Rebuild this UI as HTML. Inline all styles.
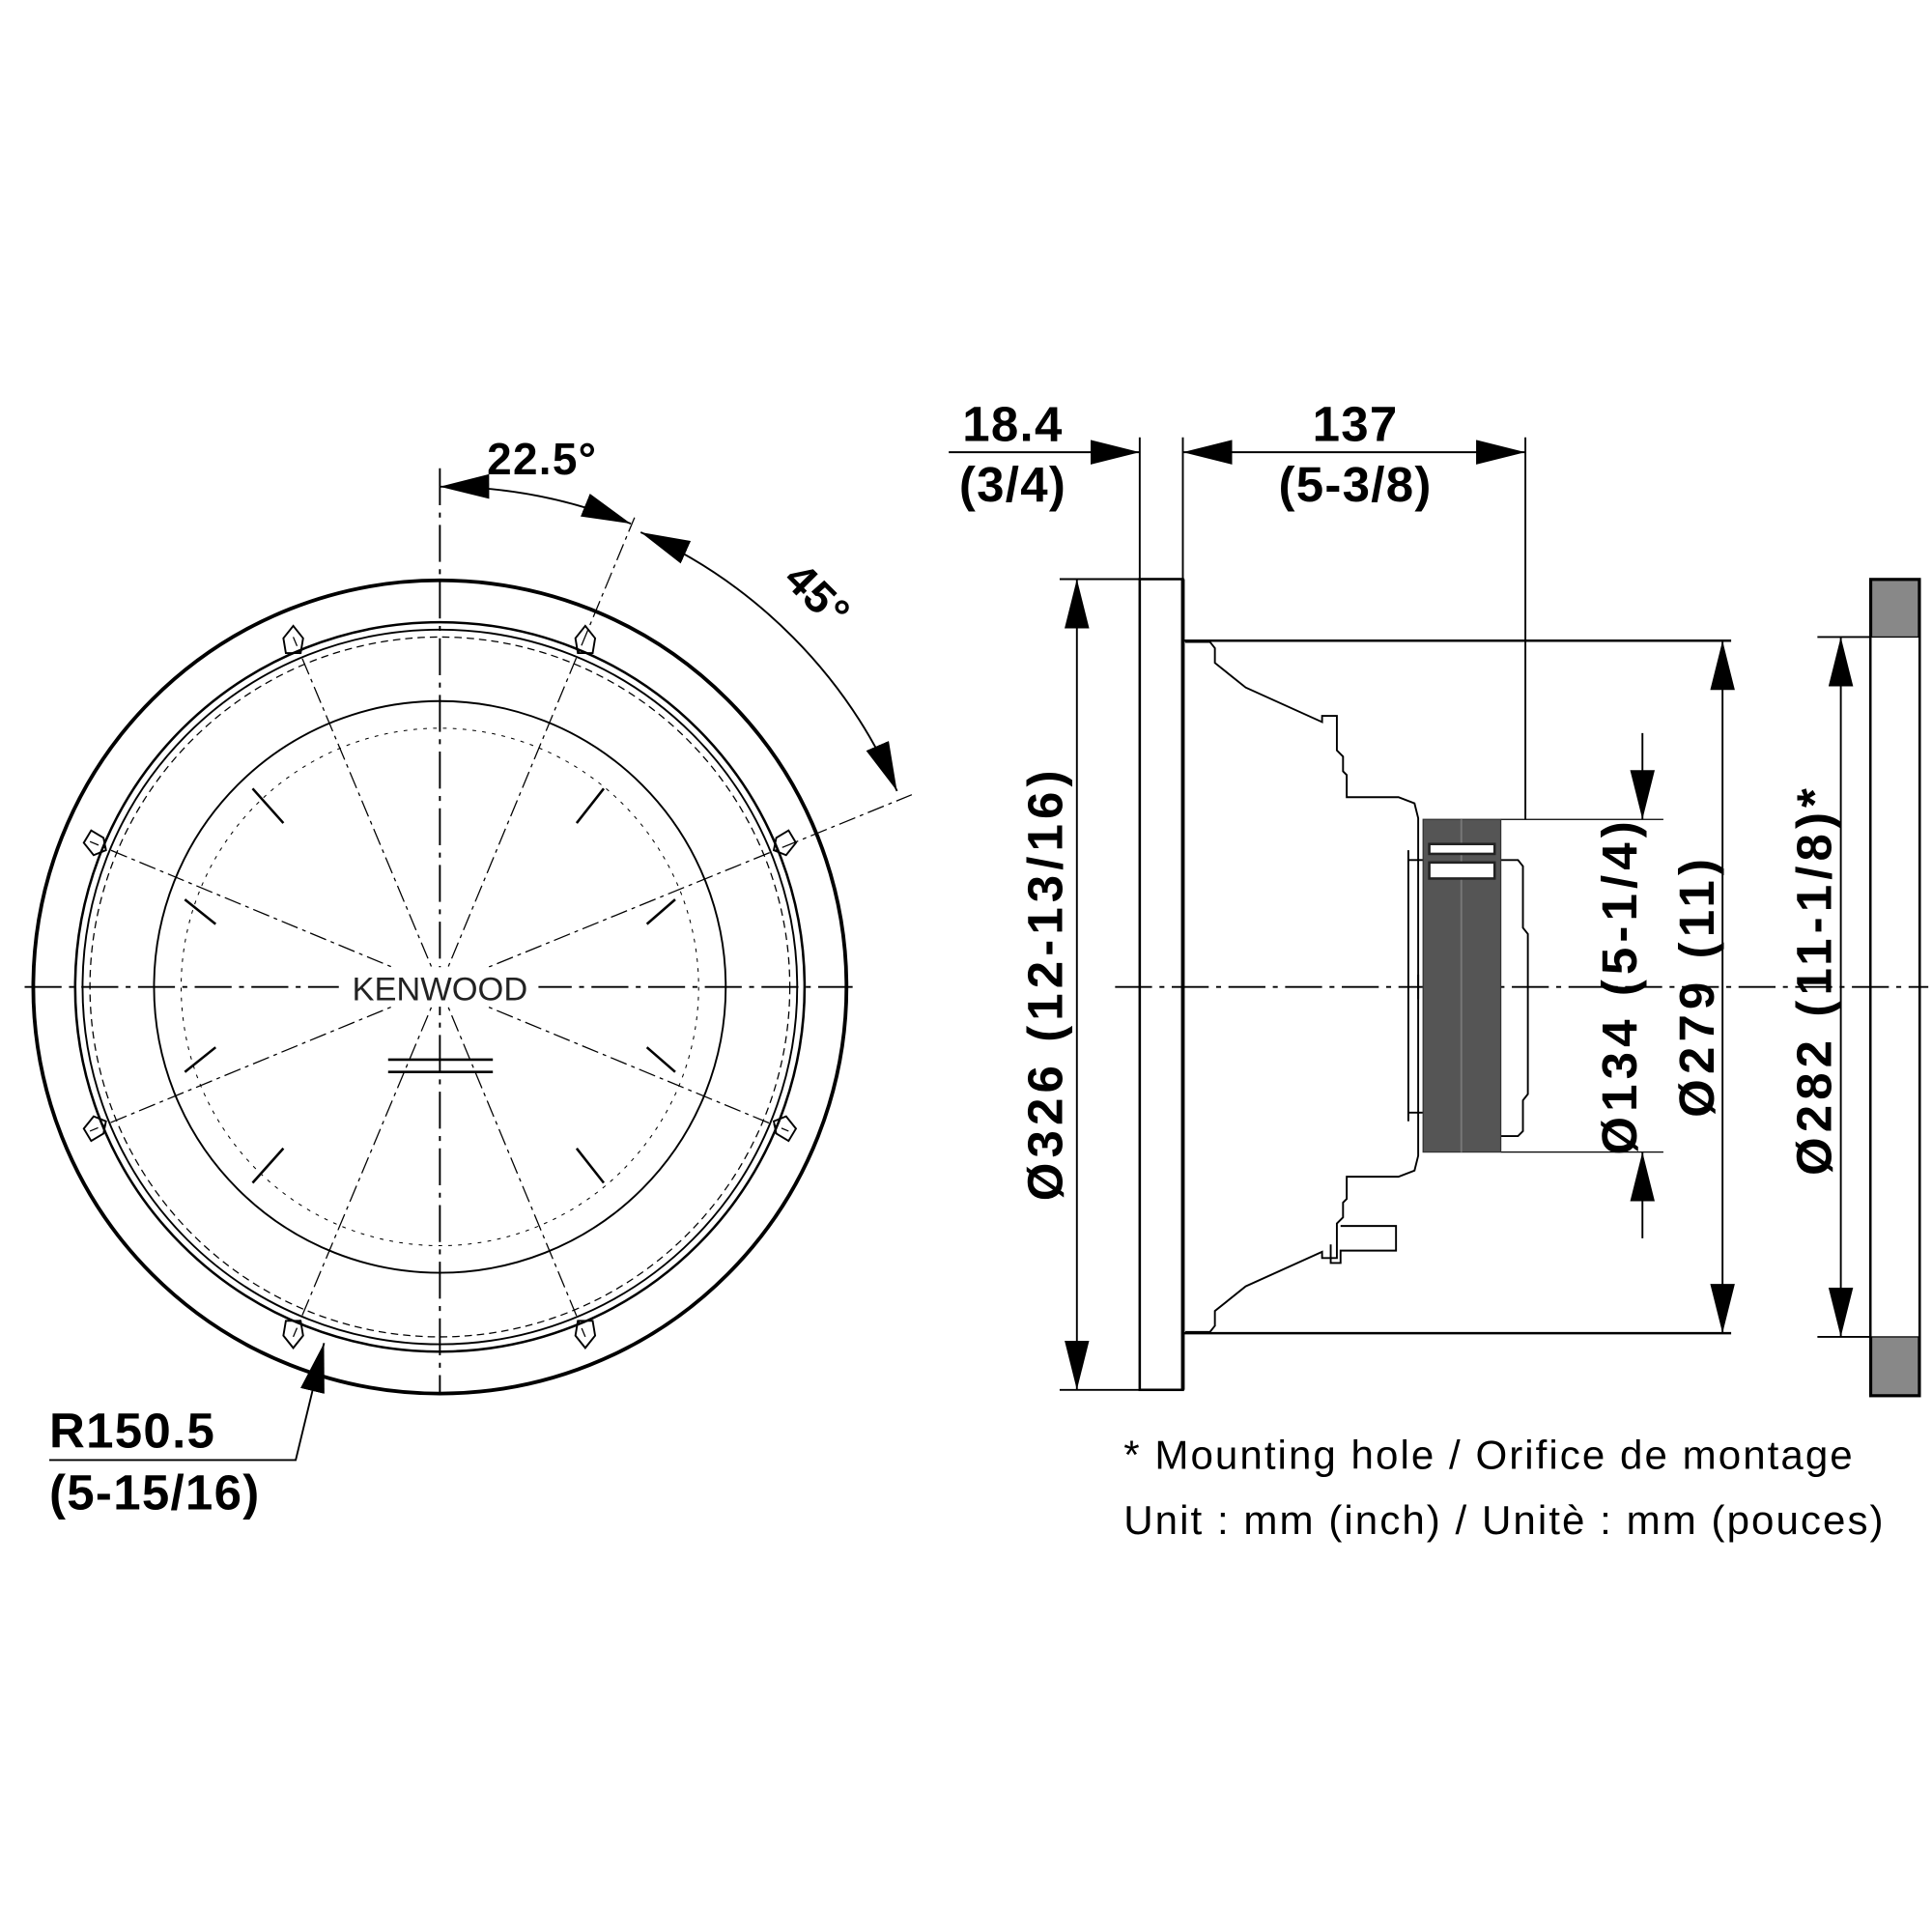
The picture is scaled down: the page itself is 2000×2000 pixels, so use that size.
<!DOCTYPE html>
<html><head><meta charset="utf-8"><style>html,body{margin:0;padding:0;background:#fff}svg{display:block}</style></head><body>
<svg width="2000" height="2000" viewBox="0 0 1568 1568" xmlns="http://www.w3.org/2000/svg" font-family="'Liberation Sans', sans-serif">
<defs>
<marker id="b" viewBox="0 0 20 10" refX="20" refY="5" markerWidth="40" markerHeight="20" markerUnits="userSpaceOnUse" orient="auto-start-reverse"><path d="M0,0 L20,5 L0,10 z" fill="#000"/></marker>
</defs>
<rect width="1568" height="1568" fill="#fff"/>
<g fill="none" stroke="#000">
<circle cx="357" cy="801" r="330" stroke-width="3"/>
<circle cx="357" cy="801" r="296" stroke-width="2"/>
<circle cx="357" cy="801" r="290" stroke-width="1.5"/>
<circle cx="357" cy="801" r="284" stroke-width="1" stroke-dasharray="6 4"/>
<circle cx="357" cy="801" r="232" stroke-width="1.5"/>
<circle cx="357" cy="801" r="210" stroke-width="0.8" stroke-dasharray="3 5"/>
<g stroke-width="1" stroke-dasharray="14 4 3 4">
<line x1="357" y1="801" x2="515" y2="420"/>
<line x1="357" y1="801" x2="238" y2="1085"/>
<line x1="357" y1="801" x2="238" y2="517"/>
<line x1="357" y1="801" x2="475" y2="1085"/>
<line x1="357" y1="801" x2="740" y2="645"/>
<line x1="357" y1="801" x2="73" y2="683"/>
<line x1="357" y1="801" x2="73" y2="918"/>
<line x1="357" y1="801" x2="640" y2="918"/>
</g>
<g stroke-width="1.5" stroke-dasharray="30 6 4 6">
<line x1="20" y1="801" x2="692" y2="801"/>
<line x1="357" y1="380" x2="357" y2="1132"/>
</g>
<g stroke-width="1.5">
<path d="M230,518 l8,-10 l8,10 l-2,12 h-12z"/><path d="M467,518 l8,-10 l8,10 l-2,12 h-12z"/>
<path d="M630,680 l10,-6 l6,10 l-8,10 l-10,-4z"/><path d="M630,920 l10,6 l6,-10 l-8,-10 l-10,4z"/>
<path d="M230,1084 l8,10 l8,-10 l-2,-12 h-12z"/><path d="M467,1084 l8,10 l8,-10 l-2,-12 h-12z"/>
<path d="M84,680 l-10,-6 l-6,10 l8,10 l10,-4z"/><path d="M84,920 l-10,6 l-6,-10 l8,-10 l10,4z"/>
</g>
<g stroke-width="2">
<line x1="205" y1="640" x2="230" y2="668"/><line x1="490" y1="640" x2="468" y2="668"/>
<line x1="150" y1="730" x2="175" y2="750"/><line x1="548" y1="730" x2="525" y2="750"/>
<line x1="150" y1="870" x2="175" y2="850"/><line x1="548" y1="870" x2="525" y2="850"/>
<line x1="205" y1="960" x2="230" y2="932"/><line x1="490" y1="960" x2="468" y2="932"/>
<line x1="315" y1="860" x2="400" y2="860"/><line x1="315" y1="870" x2="400" y2="870"/>
</g>
<path d="M357,395 A406,406 0 0 1 512,425" stroke-width="1.5" marker-start="url(#b)" marker-end="url(#b)"/>
<path d="M520,432 A406,406 0 0 1 728,642" stroke-width="1.5" marker-start="url(#b)" marker-end="url(#b)"/>
<polyline points="40,1185 240,1185 263,1090" stroke-width="1.5" marker-end="url(#b)"/>

<rect x="925" y="470" width="35" height="658" stroke-width="2"/>
<line x1="960" y1="470" x2="960" y2="1128" stroke-width="3"/>
<line x1="860" y1="470" x2="925" y2="470" stroke-width="1.5"/>
<line x1="860" y1="1128" x2="925" y2="1128" stroke-width="1.5"/>
<line x1="925" y1="355" x2="925" y2="470" stroke-width="1.5"/>
<line x1="960" y1="355" x2="960" y2="470" stroke-width="1.5"/>
<line x1="1238" y1="355" x2="1238" y2="665" stroke-width="1.5"/>
<line x1="960" y1="520" x2="1405" y2="520" stroke-width="2"/>
<line x1="960" y1="1082" x2="1405" y2="1082" stroke-width="2"/>
<path id="bk" d="M962,521 h20 l4,5 v12 l25,20 l62,28 v-5 h12 v28 l5,5 v12 l3,3 v18 h42 l13,5 l3,12 v147" stroke-width="1.5"/>
<use href="#bk" transform="matrix(1,0,0,-1,0,1602)"/>
<path d="M1080,1010 v15 h8 v-10 h45 v-20 h-45" stroke-width="1.5"/>
<line x1="1143" y1="690" x2="1143" y2="910" stroke-width="1.5"/>
<line x1="1143" y1="698" x2="1155" y2="698" stroke-width="1.5"/>
<line x1="1143" y1="903" x2="1155" y2="903" stroke-width="1.5"/>
<path d="M1218,698 h14 l4,5 v50 l4,5 v130 l-4,5 v25 l-4,4 h-14" stroke-width="1.5"/>
<line x1="1218" y1="665" x2="1350" y2="665" stroke-width="1"/>
<line x1="1218" y1="935" x2="1350" y2="935" stroke-width="1"/>
<line x1="905" y1="801" x2="1565" y2="801" stroke-width="1.5" stroke-dasharray="30 6 4 6"/>
<line x1="770" y1="367" x2="925" y2="367" stroke-width="1.5" marker-end="url(#b)"/>
<line x1="960" y1="367" x2="1238" y2="367" stroke-width="1.5" marker-start="url(#b)" marker-end="url(#b)"/>
<line x1="874" y1="470" x2="874" y2="1128" stroke-width="1.5" marker-start="url(#b)" marker-end="url(#b)"/>
<line x1="1398" y1="520" x2="1398" y2="1082" stroke-width="1.5" marker-start="url(#b)" marker-end="url(#b)"/>
<line x1="1333" y1="595" x2="1333" y2="665" stroke-width="1.5" marker-end="url(#b)"/>
<line x1="1333" y1="1005" x2="1333" y2="935" stroke-width="1.5" marker-end="url(#b)"/>
<line x1="1494" y1="517" x2="1494" y2="1085" stroke-width="1.5" marker-start="url(#b)" marker-end="url(#b)"/>
<line x1="1475" y1="517" x2="1518" y2="517" stroke-width="1.5"/>
<line x1="1475" y1="1085" x2="1518" y2="1085" stroke-width="1.5"/>
<rect x="1518" y="470" width="40" height="663" stroke-width="2"/>
</g>
<rect x="1155" y="665" width="63" height="270" fill="#555" stroke="#333"/>
<line x1="1186" y1="665" x2="1186" y2="935" stroke="#777" stroke-width="1.5"/>
<rect x="1160" y="685" width="53" height="8" fill="#fff" stroke="#222" stroke-width="2"/>
<rect x="1160" y="700" width="53" height="13" fill="#fff" stroke="#222" stroke-width="2"/>
<rect x="1519" y="471" width="38" height="46" fill="#888" stroke="#000"/>
<rect x="1519" y="1085" width="38" height="47" fill="#888" stroke="#000"/>

<g font-size="40" text-anchor="middle" fill="#000" font-weight="bold" letter-spacing="1">
<text x="822" y="358">18.4</text><text x="822" y="407">(3/4)</text>
<text x="1100" y="358">137</text><text x="1100" y="407">(5-3/8)</text>
<text x="440" y="385" font-size="36">22.5°</text>
<text transform="translate(655,492) rotate(45)" font-size="36">45°</text>
<text transform="translate(862,798) rotate(-90)" letter-spacing="4">Ø326 (12-13/16)</text>
<text transform="translate(1328,800) rotate(-90)" letter-spacing="4">Ø134 (5-1/4)</text>
<text transform="translate(1391,800) rotate(-90)" letter-spacing="4">Ø279 (11)</text>
<text transform="translate(1486,795) rotate(-90)" letter-spacing="4">Ø282 (11-1/8)*</text>
</g>
<g font-size="40" fill="#000" font-weight="bold" letter-spacing="1">
<text x="40" y="1175">R150.5</text><text x="40" y="1225">(5-15/16)</text>
</g>
<rect x="275" y="785" width="162" height="32" fill="#fff"/>
<text x="357" y="812" font-size="27" text-anchor="middle" fill="#222">KENWOOD</text>
<g font-size="33" fill="#000" letter-spacing="1.6">
<text x="912" y="1192">* Mounting hole / Orifice de montage</text>
<text x="912" y="1245">Unit : mm (inch) / Unitè : mm (pouces)</text>
</g>
</svg>
</body></html>
